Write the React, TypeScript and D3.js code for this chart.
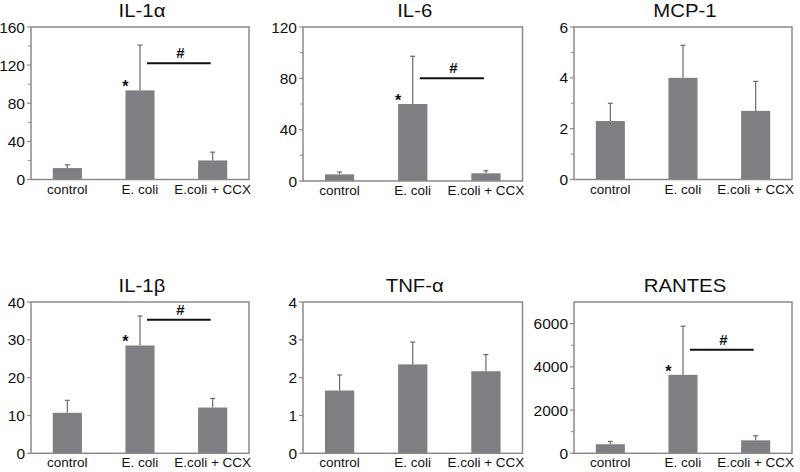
import React from "react";
import * as d3 from "d3";

const categories = ["control", "E. coli", "E.coli + CCX"];
const titles = ["IL-1α", "IL-6", "MCP-1", "IL-1β", "TNF-α", "RANTES"];
const means = [
  [12, 93.5, 20],
  [5.2, 60, 6],
  [2.3, 4.0, 2.7],
  [10.7, 28.5, 12.1],
  [1.66, 2.35, 2.17],
  [420, 3630, 600],
];
const errors = [
  [3.4, 47.5, 8.7],
  [1.8, 37.2, 2.0],
  [0.7, 1.28, 1.16],
  [3.3, 7.8, 2.4],
  [0.41, 0.59, 0.44],
  [130, 2250, 210],
];
const yMax = [160, 120, 6, 40, 4, 7000];
const majorTicks = [
  [0, 40, 80, 120, 160],
  [0, 40, 80, 120],
  [0, 2, 4, 6],
  [0, 10, 20, 30, 40],
  [0, 1, 2, 3, 4],
  [0, 2000, 4000, 6000],
];
const minorTicks = [
  [20, 60, 100, 140],
  [20, 60, 100],
  [1, 3, 5],
  [],
  [],
  [1000, 3000, 5000],
];
const sigLevels: (number | null)[] = [122, 80, null, 35.3, null, 4790];

const colLeft = [31, 303, 574];
const colRight = [249, 522.5, 792];
const rowTop = [27, 302];
const rowBottom = [179.5, 453.3];

const BAR = "#807e83";
const FONT = "'Liberation Sans', Arial, Helvetica, sans-serif";

function Panel({ i }: { i: number }) {
  const col = i % 3;
  const row = Math.floor(i / 3);
  const left = colLeft[col];
  const right = colRight[col];
  const top = rowTop[row];
  const bottom = rowBottom[row] + (i === 1 ? 1.5 : 0);
  const x = d3.scaleBand<string>().domain(categories).range([left, right]).paddingInner(0.6).paddingOuter(0.3);
  const y = d3.scaleLinear().domain([0, yMax[i]]).range([bottom, top]);
  const bw = x.bandwidth();
  const sig = sigLevels[i];
  const cx = (c: string) => (x(c) as number) + bw / 2;
  const tx = (left + right) / 2 + 2;
  const ty = top - 10;
  return (
    <g>
      <text transform={`translate(${tx},${ty}) scale(1.1,1)`} textAnchor="middle" fontSize={18.5} fontFamily={FONT} fill="#111">
        {titles[i]}
      </text>
      {categories.map((c, j) => {
        const v = means[i][j];
        const e = errors[i][j];
        const xc = cx(c);
        return (
          <g key={c}>
            <line x1={xc} x2={xc} y1={y(v)} y2={y(v + e)} stroke="#6a6a6a" strokeWidth={1.2} />
            <line x1={xc - 2.5} x2={xc + 2.5} y1={y(v + e)} y2={y(v + e)} stroke="#6a6a6a" strokeWidth={1.2} />
            <rect x={x(c)} y={y(v)} width={bw} height={bottom - y(v)} fill={BAR} />
          </g>
        );
      })}
      <rect x={left} y={top} width={right - left} height={bottom - top} fill="none" stroke="#8a8a8a" strokeWidth={1.5} />
      {majorTicks[i].map((t) => (
        <g key={"M" + t}>
          <line x1={left - 4} x2={left} y1={y(t)} y2={y(t)} stroke="#8a8a8a" strokeWidth={1.2} />
          <text x={left - 6} y={y(t)} dy="0.36em" textAnchor="end" fontSize={15.5} fontFamily={FONT} fill="#111">
            {t}
          </text>
        </g>
      ))}
      {minorTicks[i].map((t) => (
        <line key={"m" + t} x1={left - 3} x2={left} y1={y(t)} y2={y(t)} stroke="#8a8a8a" strokeWidth={1} />
      ))}
      {categories.map((c) => (
        <text key={"l" + c} x={cx(c)} y={bottom + 14} textAnchor="middle" fontSize={13.5} fontFamily={FONT} fill="#111">
          {c}
        </text>
      ))}
      {sig !== null && (
        <g>
          <line x1={cx(categories[1]) + 7} x2={cx(categories[2]) - 2} y1={y(sig)} y2={y(sig)} stroke="#111" strokeWidth={2} />
          <text x={(cx(categories[1]) + cx(categories[2])) / 2 + 4} y={y(sig) - 5} textAnchor="middle" fontSize={15} fontWeight="bold" fontFamily={FONT} fill="#111">
            #
          </text>
          <text x={x(categories[1]) as number} y={y(means[i][1]) + 2} textAnchor="middle" fontSize={16} fontWeight="bold" fontFamily={FONT} fill="#111">
            *
          </text>
        </g>
      )}
    </g>
  );
}

export default function App() {
  return (
    <svg width={800} height={472} style={{ position: "absolute", left: 0, top: 0, background: "#fff" }}>
      <rect width={800} height={472} fill="#fff" />
      {titles.map((_, i) => (
        <Panel key={i} i={i} />
      ))}
    </svg>
  );
}
